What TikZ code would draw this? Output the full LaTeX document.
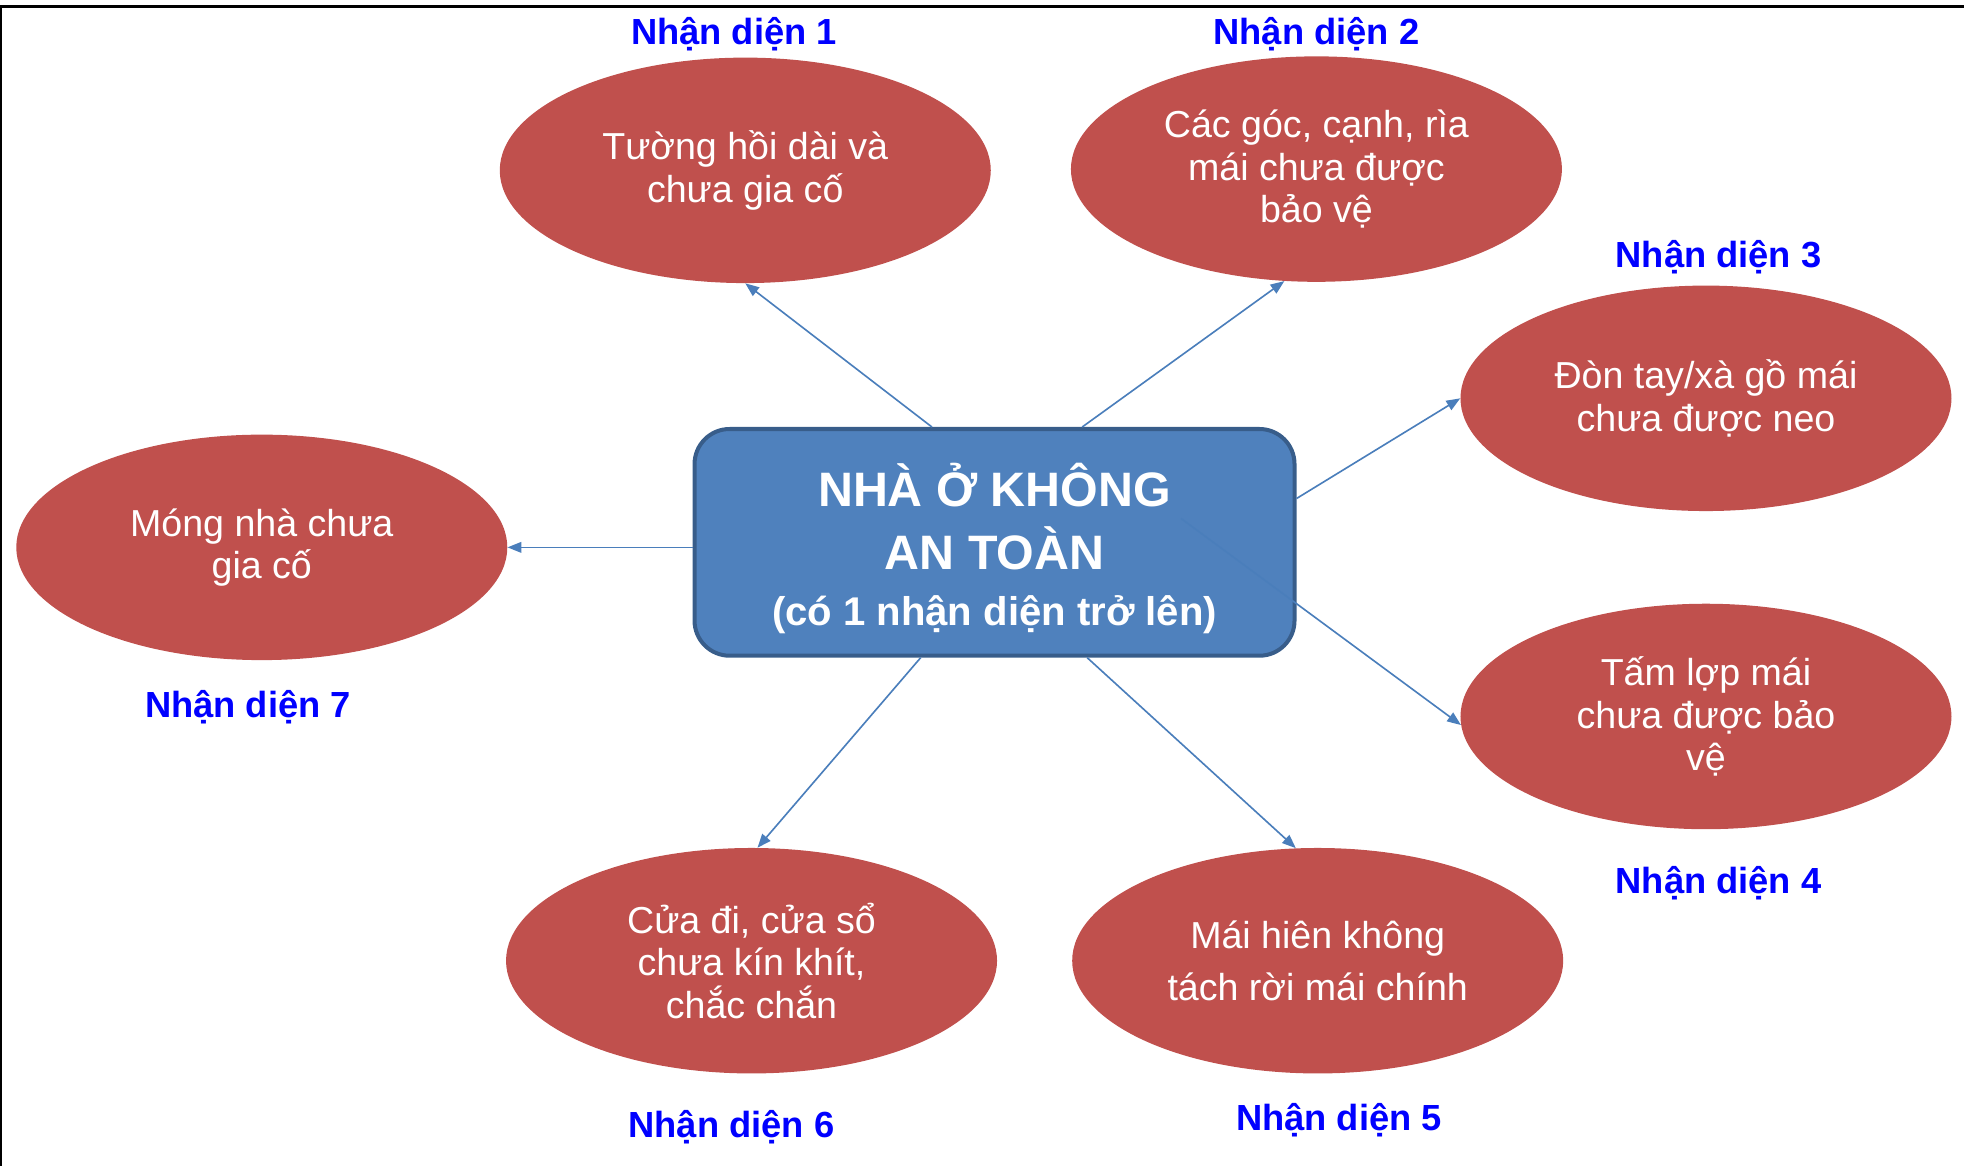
\documentclass[tikz,border=0pt]{standalone}
\usepackage{fontspec}
\setmainfont{Liberation Sans}
\usetikzlibrary{arrows.meta,shapes.geometric}
\definecolor{ellred}{HTML}{C0504D}
\definecolor{boxblue}{HTML}{4F81BD}
\definecolor{boxedge}{HTML}{385D8A}
\definecolor{arrowblue}{HTML}{4A7EBB}
\definecolor{lblblue}{HTML}{0000FF}
\begin{document}
\begin{tikzpicture}[x=1pt,y=-1pt,
  ell/.style={ellipse, fill=ellred, minimum width=392pt, minimum height=180pt, inner sep=0pt,
    text=white, align=center, font=\fontsize{30}{34}\selectfont},
  lbl/.style={text=lblblue, font=\bfseries\fontsize{29}{34}\selectfont, anchor=base, inner sep=0pt},
  conn/.style={draw=arrowblue, line width=1.3pt, -{Triangle[length=11pt,width=8.5pt]}},
  hub/.style={rounded corners=28pt, fill=boxblue, draw=boxedge, line width=3.2pt,
    minimum width=479pt, minimum height=181pt, inner sep=0pt}]
\useasboundingbox (0,0) rectangle (1568,931);
\draw[line width=2pt] (0,5) -- (1568,5);
\draw[line width=1.2pt] (0.6,5) -- (0.6,931);

% ellipses
\node[ell] (e1) at (595,136) {Tường hồi dài và\\chưa gia cố};
\node[ell] (e2) at (1051,135) {Các góc, cạnh, rìa\\mái chưa được\\bảo vệ};
\node[ell] (e3) at (1362,318) {Đòn tay/xà gồ mái\\chưa được neo};
\node[ell] (e4) at (1362,572) {Tấm lợp mái\\chưa được bảo\\vệ};
\node[ell, font=\fontsize{30}{41}\selectfont] (e5) at (1052,767) {Mái hiên không\\tách rời mái chính};
\node[ell] (e6) at (600,767) {Cửa đi, cửa sổ\\chưa kín khít,\\chắc chắn};
\node[ell] (e7) at (209,437) {Móng nhà chưa\\gia cố};

% labels
\node[lbl] (l1) at (586,35.5) {Nhận diện 1};
\node[lbl] (l2) at (1051,35.5) {Nhận diện 2};
\node[lbl] (l3) at (1372,213.5) {Nhận diện 3};
\node[lbl] (l4) at (1372,713.5) {Nhận diện 4};
\node[lbl] (l5) at (1069,902.5) {Nhận diện 5};
\node[lbl] (l6) at (584,908.5) {Nhận diện 6};
\node[lbl] (l7) at (198,572.5) {Nhận diện 7};

% hub
\node[hub] (hub) at (794,433) {};
\node[text=white, align=center, inner sep=0pt, font=\bfseries\fontsize{38.6}{50}\selectfont]
  (hubtext) at (794,438) {NHÀ Ở KHÔNG\\AN TOÀN\\[-5pt]{\fontsize{32}{40}\selectfont (có 1 nhận diện trở lên)}};

% connectors
\draw[conn] ([xshift=-50pt]hub.north) -- (e1.south);
\draw[conn] ([xshift=70pt]hub.north) -- (e2.-106);
\draw[conn] ([yshift=35pt]hub.east) -- (e3.west);
\draw[conn] ([xshift=149pt,yshift=19pt]hub.center) -- (e4.182);
\draw[conn] ([xshift=74pt]hub.south) -- (e5.101);
\draw[conn] ([xshift=-59pt]hub.south) -- (e6.87);
\draw[conn] ([yshift=-4pt]hub.west) -- (e7.east);
\end{tikzpicture}
\end{document}
